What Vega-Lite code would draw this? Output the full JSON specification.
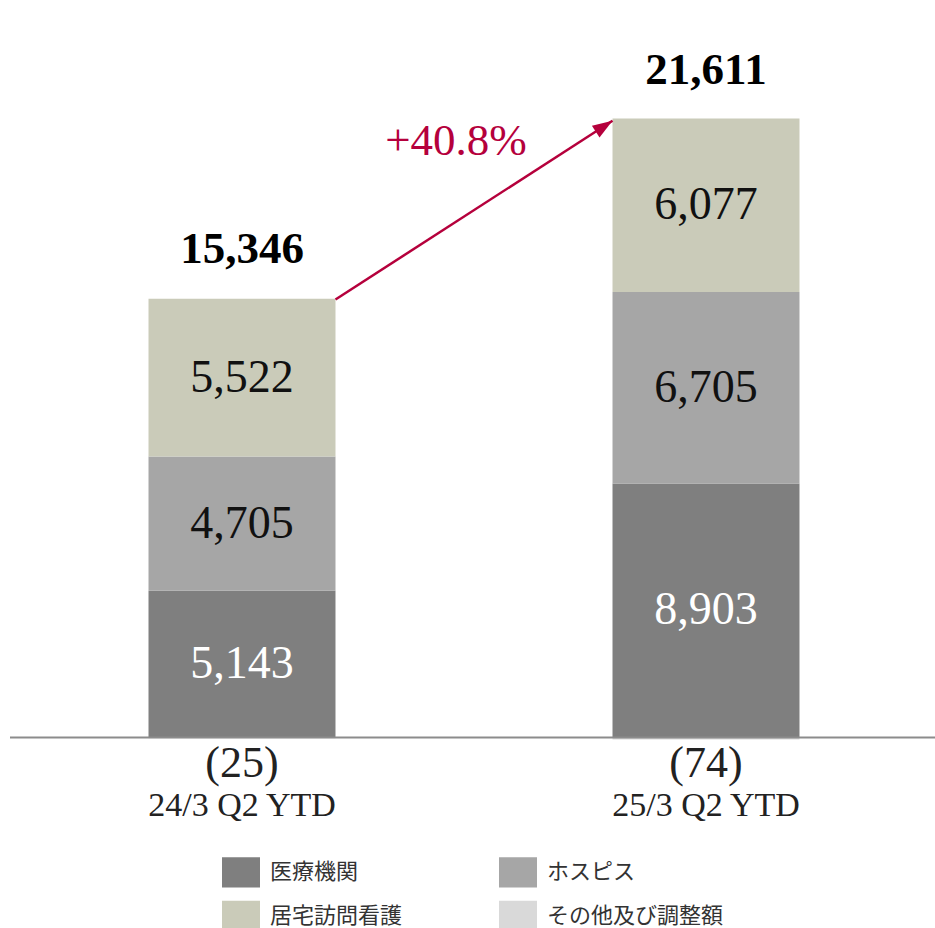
{
  "$schema": "https://vega.github.io/schema/vega-lite/v6.json",
  "autosize": {"type": "none"},
  "width": 928,
  "height": 742,
  "padding": {"left": 10, "top": 24, "right": 0, "bottom": 162},
  "background": "white",
  "config": {
    "view": {"stroke": null},
    "font": "Liberation Serif"
  },
  "datasets": {
    "seg": [
      {"period": "24/3 Q2 YTD", "segment": "医療機関", "value": 5143, "order": 1},
      {"period": "24/3 Q2 YTD", "segment": "ホスピス", "value": 4705, "order": 2},
      {"period": "24/3 Q2 YTD", "segment": "居宅訪問看護", "value": 5522, "order": 3},
      {"period": "24/3 Q2 YTD", "segment": "その他及び調整額", "value": -25, "order": 4},
      {"period": "25/3 Q2 YTD", "segment": "医療機関", "value": 8903, "order": 1},
      {"period": "25/3 Q2 YTD", "segment": "ホスピス", "value": 6705, "order": 2},
      {"period": "25/3 Q2 YTD", "segment": "居宅訪問看護", "value": 6077, "order": 3},
      {"period": "25/3 Q2 YTD", "segment": "その他及び調整額", "value": -74, "order": 4}
    ],
    "tot": [
      {"period": "24/3 Q2 YTD", "total": 15346},
      {"period": "25/3 Q2 YTD", "total": 21611}
    ],
    "arr": [
      {"from": "24/3 Q2 YTD", "to": "25/3 Q2 YTD", "start": 15346, "end": 21611, "growth": 0.408}
    ]
  },
  "layer": [
    {
      "data": {"name": "seg"},
      "mark": {"type": "bar"},
      "encoding": {
        "x": {"field": "period", "type": "nominal", "axis": null,
              "scale": {"paddingInner": 0.597, "paddingOuter": 0.2985}},
        "y": {"field": "value", "type": "quantitative", "stack": "zero", "axis": null,
              "scale": {"domain": [-1000, 25000], "nice": false, "zero": false}},
        "order": {"field": "order", "type": "quantitative"},
        "color": {
          "field": "segment", "type": "nominal",
          "scale": {
            "domain": ["医療機関", "ホスピス", "居宅訪問看護", "その他及び調整額"],
            "range": ["#7f7f7f", "#a6a6a6", "#cacbb9", "#d9d9d9"]
          },
          "legend": {
            "title": null,
            "orient": "none",
            "direction": "horizontal",
            "legendX": 212,
            "legendY": 829,
            "columns": 2,
            "columnPadding": 96,
            "rowPadding": 9,
            "padding": 0,
            "symbolType": "M-1,-0.8H1V0.8H-1Z",
            "symbolSize": 1444,
            "symbolStrokeWidth": 0,
            "symbolOpacity": 1,
            "labelFont": "Noto Sans CJK JP",
            "labelFontSize": 22,
            "labelColor": "#333333",
            "labelOffset": 10,
            "labelLimit": 300
          }
        }
      }
    },
    {
      "data": {"name": "seg"},
      "transform": [{"filter": "datum.value > 0"}],
      "mark": {"type": "text", "fontSize": 46, "baseline": "middle", "align": "center", "font": "Liberation Serif"},
      "encoding": {
        "x": {"field": "period", "type": "nominal"},
        "y": {"field": "value", "type": "quantitative", "stack": "zero", "bandPosition": 0.5},
        "order": {"field": "order", "type": "quantitative"},
        "text": {"field": "value", "type": "quantitative", "format": ","},
        "color": {"condition": {"test": "datum.segment === '医療機関'", "value": "#ffffff"}, "value": "#111111"}
      }
    },
    {
      "data": {"name": "seg"},
      "transform": [{"filter": "datum.value < 0"}],
      "mark": {"type": "text", "fontSize": 44, "baseline": "middle", "align": "center", "dy": 27, "color": "#222222", "font": "Liberation Serif"},
      "encoding": {
        "x": {"field": "period", "type": "nominal"},
        "y": {"datum": 0, "type": "quantitative"},
        "text": {"field": "value", "type": "quantitative", "format": "(,"}
      }
    },
    {
      "data": {"name": "tot"},
      "mark": {"type": "text", "fontSize": 34, "baseline": "middle", "align": "center", "dy": 69, "color": "#222222", "font": "Liberation Serif"},
      "encoding": {
        "x": {"field": "period", "type": "nominal"},
        "y": {"datum": 0, "type": "quantitative"},
        "text": {"field": "period", "type": "nominal"}
      }
    },
    {
      "data": {"name": "tot"},
      "mark": {"type": "text", "fontSize": 45, "fontWeight": "bold", "baseline": "alphabetic", "align": "center", "dy": -37, "color": "#000000", "font": "Liberation Serif"},
      "encoding": {
        "x": {"field": "period", "type": "nominal"},
        "y": {"field": "total", "type": "quantitative"},
        "text": {"field": "total", "type": "quantitative", "format": ","}
      }
    },
    {
      "data": {"values": [{"base": 0}]},
      "mark": {"type": "rule", "color": "#8c8c8c", "strokeWidth": 2},
      "encoding": {
        "y": {"field": "base", "type": "quantitative"}
      }
    },
    {
      "data": {"name": "arr"},
      "mark": {"type": "rule", "color": "#b5003c", "strokeWidth": 2.5, "xOffset": 93.5, "x2Offset": -93.5},
      "encoding": {
        "x": {"field": "from", "type": "nominal"},
        "x2": {"field": "to"},
        "y": {"field": "start", "type": "quantitative"},
        "y2": {"field": "end"}
      }
    },
    {
      "data": {"name": "arr"},
      "mark": {"type": "point", "shape": "M0,0L-0.7,2L0.7,2Z", "size": 400, "filled": true, "opacity": 1, "color": "#b5003c", "angle": 57, "xOffset": -93.5, "strokeWidth": 0},
      "encoding": {
        "x": {"field": "to", "type": "nominal"},
        "y": {"field": "end", "type": "quantitative"}
      }
    },
    {
      "data": {"name": "arr"},
      "mark": {"type": "text", "fontSize": 45, "baseline": "middle", "align": "center", "dx": -250, "dy": 20, "color": "#b5003c", "font": "Liberation Serif"},
      "encoding": {
        "x": {"field": "to", "type": "nominal"},
        "y": {"field": "end", "type": "quantitative"},
        "text": {"field": "growth", "type": "quantitative", "format": "+.1%"}
      }
    }
  ]
}
